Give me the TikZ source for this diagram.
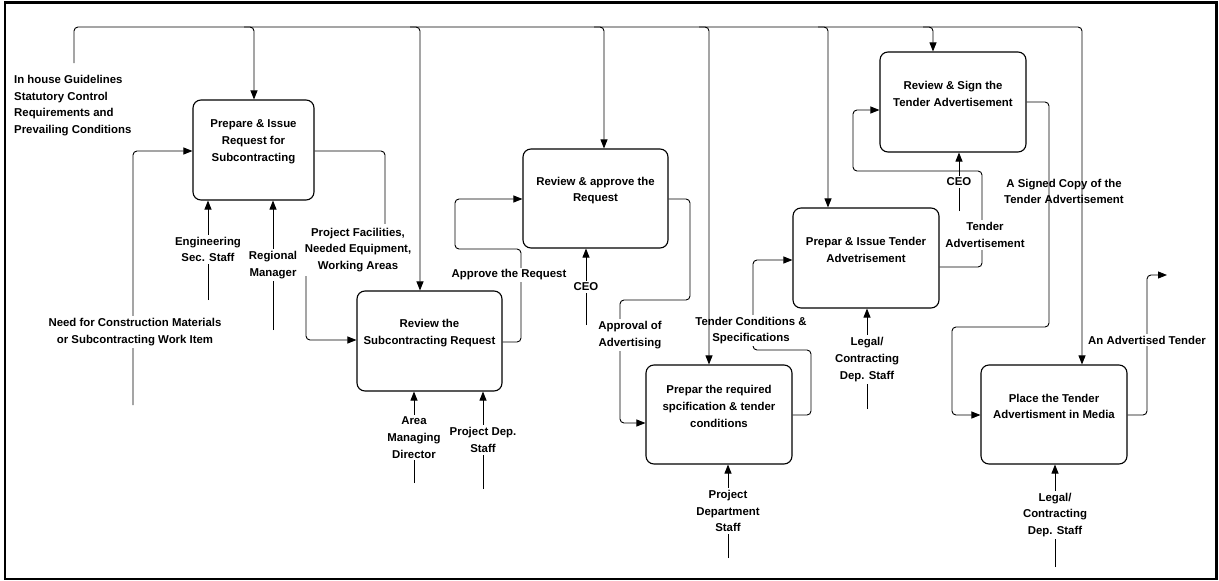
\documentclass[tikz,border=0pt]{standalone}
\usepackage{fontspec}
\setmainfont{Liberation Sans}
\usetikzlibrary{arrows.meta}
\tikzset{
  txt/.style={font=\bfseries\fontsize{11.4pt}{16.8pt}\selectfont, align=center},
  proc/.style={draw, line width=1.1pt, rounded corners=8pt, minimum height=100pt, inner sep=0pt},
  ptext/.style={txt, inner sep=0pt},
  lbl/.style={txt, inner sep=2pt, fill=white},
  lblclear/.style={txt, inner sep=2pt},
  flow/.style={draw, line width=0.9pt, rounded corners=4pt, -{Triangle[length=9pt,width=7pt]}},
  plain/.style={draw, line width=0.9pt, rounded corners=4pt}
}
\begin{document}
\begin{tikzpicture}[x=1pt, y=-1pt]
\useasboundingbox (0,0) rectangle (1219,581);
\draw[line width=2.8pt] (5,2.5) rectangle (1216.5,579);

% process boxes
\node[proc, minimum width=121pt] (p1) at (253.5,150) {};
\node[proc, minimum width=145pt] (p2) at (429.5,341) {};
\node[proc, minimum width=145pt, minimum height=99pt] (p3) at (595.5,198.5) {};
\node[proc, minimum width=146pt, minimum height=99pt] (p4) at (719,414.5) {};
\node[proc, minimum width=146pt] (p5) at (866,258) {};
\node[proc, minimum width=146pt] (p6) at (953,102) {};
\node[proc, minimum width=146pt, minimum height=99pt] (p7) at (1054,414.5) {};

\node[ptext] (p1t) at ([yshift=8pt]p1.center) {Prepare \& Issue\\Request for\\Subcontracting};
\node[ptext] (p2t) at ([yshift=8pt]p2.center) {Review the\\Subcontracting Request};
\node[ptext] (p3t) at ([yshift=8pt]p3.center) {Review \& approve the\\Request};
\node[ptext] (p4t) at ([yshift=8pt]p4.center) {Prepar the required\\spcification \& tender\\conditions};
\node[ptext] (p5t) at ([yshift=8pt]p5.center) {Prepar \& Issue Tender\\Advetrisement};
\node[ptext] (p6t) at ([yshift=8pt]p6.center) {Review \& Sign the\\Tender Advertisement};
\node[ptext] (p7t) at ([yshift=8pt]p7.center) {Place the Tender\\Advertisment in Media};

% free ends
\coordinate (inh) at (74,63);
\coordinate (needS) at (133,405);
\coordinate (engS) at (208,300);
\coordinate (regS) at (273,330);
\coordinate (areaS) at (414,483);
\coordinate (pdS) at (483,489);
\coordinate (ceo1S) at (586,325);
\coordinate (pdeptS) at (728,558);
\coordinate (legal1S) at (867,409);
\coordinate (ceo2S) at (959,211);
\coordinate (legal2S) at (1055,567);
\coordinate (outE) at (1167,275);
% branch points on the top bus
\coordinate (b1) at (244,27);
\coordinate (b2) at (410,27);
\coordinate (b3) at (594,27);
\coordinate (b4) at (699,27);
\coordinate (b5) at (818,27);
\coordinate (b6) at (923,27);

% flows between boxes
\draw[flow] (needS) -- (133,151) -- (p1.west |- 0,151);
\draw[flow] (p1.east |- 0,151) -- (385,151) -- (385,262) -- (306,262) -- (306,340) -- (p2.west |- 0,340);
\draw[flow] (p2.east |- 0,342) -- (521,342) -- (521,249) -- (455,249) -- (455,199) -- (p3.west |- 0,199);
\draw[flow] (p3.east |- 0,199) -- (690,199) -- (690,300) -- (620,300) -- (620,423) -- (p4.west |- 0,423);
\draw[flow] (p4.east |- 0,415) -- (811,415) -- (811,350) -- (753,350) -- (753,260) -- (p5.west |- 0,260);
\draw[flow] (p5.east |- 0,267) -- (982,267) -- (982,171) -- (853,171) -- (853,110) -- (p6.west |- 0,110);
\draw[flow] (p6.east |- 0,102) -- (1049,102) -- (1049,327) -- (952,327) -- (952,415) -- (p7.west |- 0,415);
\draw[flow] (p7.east |- 0,415) -- (1147,415) -- (1147,275) -- (outE);

% mechanism / control arrows from below
\draw[flow] (engS) -- (p1.south -| engS);
\draw[flow] (regS) -- (p1.south -| regS);
\draw[flow] (areaS) -- (p2.south -| areaS);
\draw[flow] (pdS) -- (p2.south -| pdS);
\draw[flow] (ceo1S) -- (p3.south -| ceo1S);
\draw[flow] (pdeptS) -- (p4.south -| pdeptS);
\draw[flow] (legal1S) -- (p5.south -| legal1S);
\draw[flow] (ceo2S) -- (p6.south -| ceo2S);
\draw[flow] (legal2S) -- (p7.south -| legal2S);

% labels
\node[txt, align=left, anchor=west, inner sep=0pt] (inhL) at (14,105.5) {In house Guidelines\\Statutory Control\\Requirements and\\Prevailing Conditions};
\node[lbl] (needL) at (135,332) {Need for Construction Materials\\or Subcontracting Work Item};
\node[lbl] (engL) at (208,249.5) {Engineering\\Sec. Staff};
\node[lbl] (regL) at (273,265) {Regional\\Manager};
\node[lbl, inner sep=4pt] (pfL) at (358,250) {Project Facilities,\\Needed Equipment,\\Working Areas};
\node[lbl] (apprL) at (509,275) {Approve the Request};
\node[lbl] (ceo1L) at (586,287) {CEO};
\node[lbl] (areaL) at (414,437.5) {Area\\Managing\\Director};
\node[lbl] (pdL) at (483,440) {Project Dep.\\Staff};
\node[lbl] (advL) at (630,335) {Approval of\\Advertising};
\node[lbl] (tcL) at (751,330.5) {Tender Conditions \&\\Specifications};
\node[lbl] (pdeptL) at (728,511) {Project\\Department\\Staff};
\node[lbl] (legal1L) at (867,359.5) {Legal/\\Contracting\\Dep. Staff};
\node[lbl] (taL) at (985,235) {Tender\\Advertisement};
\node[lbl] (ceo2L) at (959,182) {CEO};
\node[lbl] (atL) at (1147,340) {An Advertised Tender};
\node[lbl] (legal2L) at (1055,515) {Legal/\\Contracting\\Dep. Staff};
\node[lblclear] (scL) at (1064,191.5) {A Signed Copy of the\\Tender Advertisement};

% control bus from the top
\draw[flow] (inh) -- (74,27) -| (p7.north -| 1082,0);
\draw[flow] (b1) -| (p1.north -| 254,0);
\draw[flow] (b2) -| (p2.north -| 420,0);
\draw[flow] (b3) -| (p3.north -| 604,0);
\draw[flow] (b4) -| (p4.north -| 709,0);
\draw[flow] (b5) -| (p5.north -| 828,0);
\draw[flow] (b6) -| (p6.north -| 933,0);
\end{tikzpicture}
\end{document}
